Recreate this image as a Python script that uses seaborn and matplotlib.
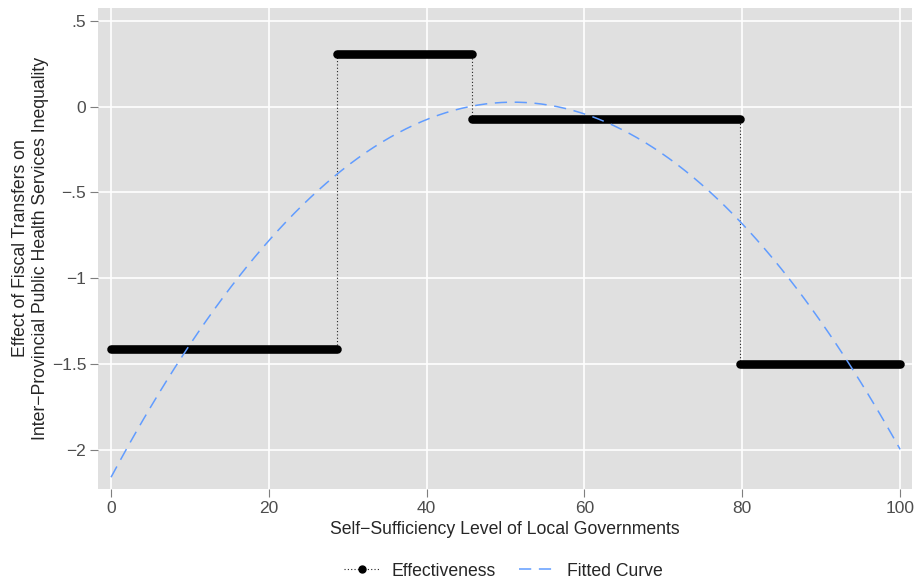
import matplotlib
matplotlib.use('Agg')
import matplotlib.pyplot as plt
from matplotlib.lines import Line2D
import seaborn as sns

# Step levels of the effectiveness estimate
breaks = [0, 28.6, 45.7, 79.7, 100]
levels = [-1.415, 0.309, -0.072, -1.50]

curve_x = [0, 10, 20, 30, 40, 50, 60, 70, 80, 90, 100]
curve_y = [-2.16, -1.39, -0.77, -0.35, -0.08, 0.02, -0.05, -0.25, -0.69, -1.26, -2.00]

xticks = [0, 20, 40, 60, 80, 100]
yticks = [0.5, 0, -0.5, -1, -1.5, -2]
ytick_labels = ['.5', '0', '\u2212.5', '\u22121', '\u22121.5', '\u22122']

sns.set_style('darkgrid', {'axes.facecolor': '#E0E0E0', 'grid.color': 'white'})
plt.rcParams['font.family'] = ['Liberation Sans', 'DejaVu Sans']

fig = plt.figure(figsize=(9.17, 5.81), dpi=100)
ax = fig.add_axes([0.1069, 0.1583, 0.8876, 0.8279])

# dotted connector through the whole step path
path_x, path_y = [], []
for i, lvl in enumerate(levels):
    path_x += [breaks[i], breaks[i + 1]]
    path_y += [lvl, lvl]
sns.lineplot(x=path_x, y=path_y, sort=False, estimator=None, ax=ax,
             color='#222222', linewidth=0.8, linestyle=(0, (1, 2)), zorder=2)

# thick point bands for each step
for i, lvl in enumerate(levels):
    sns.lineplot(x=[breaks[i], breaks[i + 1]], y=[lvl, lvl], ax=ax, color='black',
                 linewidth=6.2, solid_capstyle='round', zorder=3)

# fitted curve
sns.regplot(x=curve_x, y=curve_y, order=2, ci=None, scatter=False, ax=ax,
            line_kws={'color': '#619CFF', 'linewidth': 1.1,
                      'linestyle': (0, (8, 5)), 'zorder': 4})

ax.set_xlim(-1.65, 101.5)
ax.set_ylim(-2.23, 0.576)
ax.set_xticks(xticks)
ax.set_xticklabels([str(t) for t in xticks])
ax.set_yticks(yticks)
ax.set_yticklabels(ytick_labels)
ax.grid(True, color='white', linewidth=1.2)
for s in ax.spines.values():
    s.set_visible(False)
ax.tick_params(axis='both', which='major', length=5.5, width=0.8, color='#7F7F7F',
               labelcolor='#4D4D4D', labelsize=12.5, pad=3, bottom=True, left=True)

ax.set_xlabel('Self\u2212Sufficiency Level of Local Governments', fontsize=12.7, labelpad=4)
ax.set_ylabel('Effect of Fiscal Transfers on\nInter\u2212Provincial Public Health Services Inequality',
              fontsize=12.7, labelpad=2)

handles = [
    Line2D([], [], color='#222222', linestyle=(0, (1, 2)), linewidth=0.8,
           marker='o', markersize=5, markerfacecolor='black', markeredgecolor='black'),
    Line2D([], [], color='#619CFF', linestyle=(0, (8, 5)), linewidth=1.1),
]
fig.legend(handles, ['Effectiveness', 'Fitted Curve'], loc='lower center',
           bbox_to_anchor=(0.549, -0.025), ncol=2, frameon=False, fontsize=12.7,
           handlelength=2.0, handletextpad=0.7, columnspacing=1.3)

fig.savefig('out.png', dpi=100)
